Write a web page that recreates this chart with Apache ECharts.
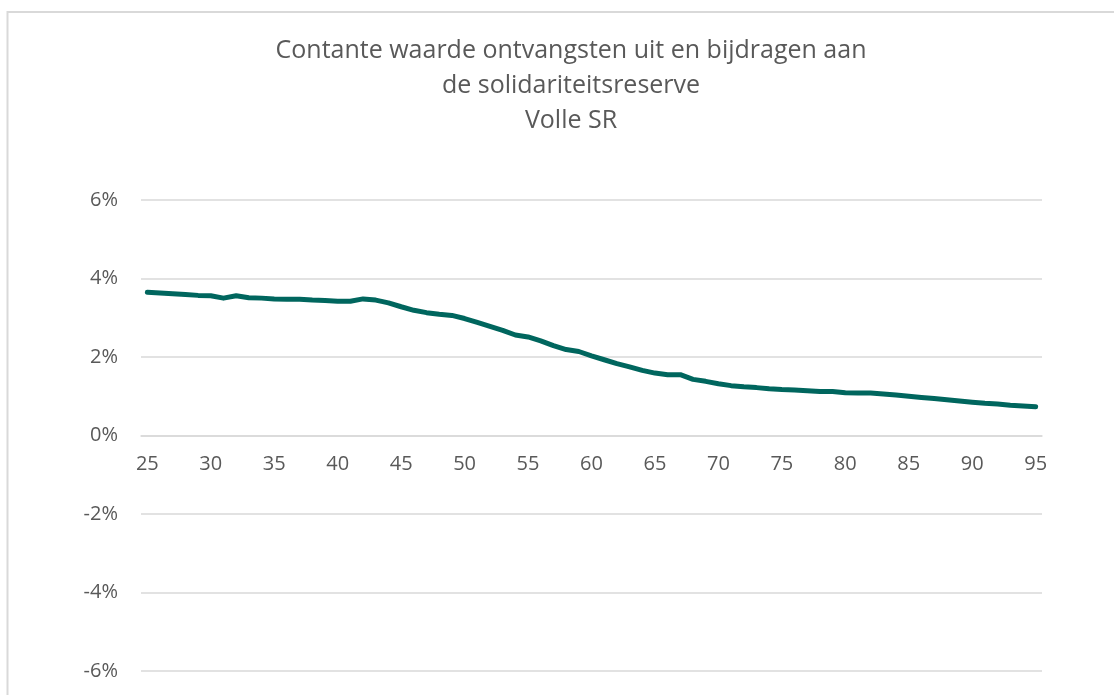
<!DOCTYPE html>
<html>
<head>
<meta charset="utf-8">
<script src="https://cdn.jsdelivr.net/npm/echarts@6/dist/echarts.min.js"></script>
<style>
html,body{margin:0;padding:0;background:#fff;}
#chart{width:1114px;height:695px;}
</style>
</head>
<body>
<div id="chart"></div>
<script>
const titleLines = ['Contante waarde ontvangsten uit en bijdragen aan', 'de solidariteitsreserve', 'Volle SR'];
const ages = [];
for (let a = 25; a <= 95; a++) ages.push(String(a));
const values = [
  3.65, 3.63, 3.61, 3.59, 3.57, 3.56, 3.50, 3.56, 3.51, 3.50,
  3.48, 3.47, 3.47, 3.45, 3.44, 3.42, 3.42, 3.48, 3.45, 3.38,
  3.28, 3.19, 3.13, 3.09, 3.06, 2.98, 2.88, 2.78, 2.68, 2.56,
  2.51, 2.41, 2.29, 2.19, 2.14, 2.03, 1.93, 1.83, 1.75, 1.66,
  1.59, 1.55, 1.55, 1.43, 1.38, 1.32, 1.27, 1.24, 1.22, 1.19,
  1.17, 1.16, 1.14, 1.12, 1.12, 1.09, 1.08, 1.08, 1.06, 1.03,
  1.00, 0.97, 0.94, 0.91, 0.88, 0.85, 0.82, 0.80, 0.77, 0.75,
  0.73
];
const yMin = -6, yMax = 6, yStep = 2;

const FONT = '"Open Sans", Lato, sans-serif';
const GRID_TOP = 200, GRID_BOTTOM = 24, H = 695;
const gridH = H - GRID_TOP - GRID_BOTTOM;
// distance from grid bottom up to the zero line (axis crosses at 0)
const zeroOffset = -gridH * (0 - yMin) / (yMax - yMin);

const chart = echarts.init(document.getElementById('chart'));
chart.setOption({
  animation: false,
  graphic: [{
    type: 'rect',
    shape: { x: 7.5, y: 12, width: 1200, height: 800 },
    style: { fill: 'none', stroke: '#d9d9d9', lineWidth: 2 },
    silent: true
  }],
  title: {
    text: titleLines.join('\n'),
    left: 566,
    top: 28,
    textAlign: 'center',
    textStyle: { fontFamily: FONT, fontSize: 25, fontWeight: 'normal', color: '#595959', lineHeight: 35 }
  },
  grid: { left: 141, right: 72, top: GRID_TOP, bottom: GRID_BOTTOM, containLabel: false, outerBoundsMode: 'none' },
  xAxis: {
    type: 'category',
    data: ages,
    boundaryGap: true,
    position: 'bottom',
    offset: zeroOffset,
    axisLine: { onZero: false, lineStyle: { color: '#d9d9d9', width: 1.5 } },
    axisTick: { show: false },
    axisLabel: {
      interval: 4,
      margin: 19,
      fontFamily: FONT, fontSize: 20, color: '#595959'
    }
  },
  yAxis: {
    type: 'value',
    min: yMin, max: yMax, interval: yStep,
    axisLine: { show: false },
    axisTick: { show: false },
    splitLine: { lineStyle: { color: '#d9d9d9', width: 1.5 } },
    axisLabel: {
      margin: 23,
      formatter: v => v + '%',
      fontFamily: FONT, fontSize: 20, color: '#595959'
    }
  },
  series: [{
    type: 'line',
    data: values,
    showSymbol: false,
    symbol: 'none',
    lineStyle: { color: '#00665E', width: 5, cap: 'round', join: 'round' },
    itemStyle: { color: '#00665E' }
  }]
});
</script>
</body>
</html>
